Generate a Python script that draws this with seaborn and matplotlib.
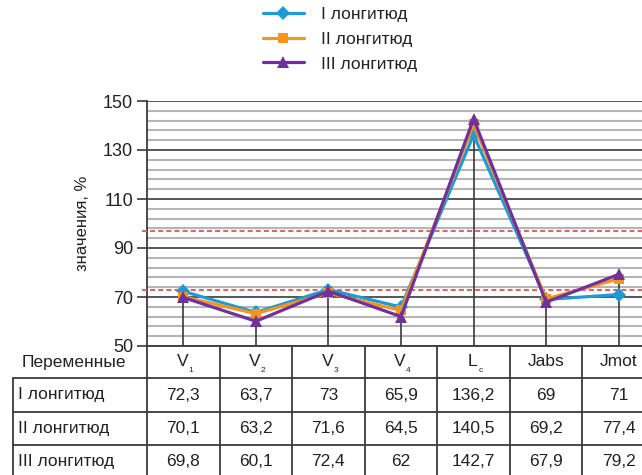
import numpy as np
import pandas as pd
import matplotlib
matplotlib.use("Agg")
import matplotlib.pyplot as plt
import matplotlib.transforms as mtransforms
from matplotlib.lines import Line2D
from matplotlib.ticker import MultipleLocator
from matplotlib import font_manager
import seaborn as sns

# ── Data ──────────────────────────────────────────────────
categories   = ["V1", "V2", "V3", "V4", "Lc", "Jabs", "Jmot"]
cat_main     = ["V", "V", "V", "V", "L", "Jabs", "Jmot"]
cat_sub      = ["1", "2", "3", "4", "c", "", ""]
series_names = ["I лонгитюд", "II лонгитюд", "III лонгитюд"]
long_1       = [72.3, 63.7, 73, 65.9, 136.2, 69, 71]
long_2       = [70.1, 63.2, 71.6, 64.5, 140.5, 69.2, 77.4]
long_3       = [69.8, 60.1, 72.4, 62, 142.7, 67.9, 79.2]
thresholds   = [97, 73]
header_label = "Переменные"
y_label      = "значения, %"

# ── Style ─────────────────────────────────────────────────
sns.set_theme(style="white")
installed = {f.name for f in font_manager.fontManager.ttflist}
NARROW = "Liberation Sans Narrow" if "Liberation Sans Narrow" in installed else "Liberation Sans"
plt.rcParams["font.family"] = ["Liberation Sans", "DejaVu Sans"]

COLORS = {
    "I лонгитюд"   : "#1e9bd7",
    "II лонгитюд"  : "#f7941d",
    "III лонгитюд" : "#6f329c",
    "dark"         : "#3a3a3a",
    "minor"        : "#b5b5b5",
    "red"          : "#e06464",
    "text"         : "#222222",
}
MARKERS = {"I лонгитюд": ("D", 7), "II лонгитюд": ("s", 7), "III лонгитюд": ("^", 8)}

W, H = 642, 475
fig = plt.figure(figsize=(W / 100, H / 100), dpi=100)
fy = lambda px: 1 - px / H          # pixel row -> figure fraction
fx = lambda px: px / W

ax = fig.add_axes([fx(147), fy(346), 508 / W, 245 / H])

df = pd.DataFrame({
    "cat"   : categories * 3,
    "value" : long_1 + long_2 + long_3,
    "series": np.repeat(series_names, len(categories)),
})

# drop lines from the highest point of every category
tops = df.groupby("cat", sort=False)["value"].max()
ax.vlines(tops.index, 50, tops.values, color=COLORS["dark"], lw=1.2, zorder=2)

for i, name in enumerate(series_names):
    m, ms = MARKERS[name]
    sns.lineplot(data=df[df["series"] == name], x="cat", y="value", sort=False,
                 color=COLORS[name], marker=m, markersize=ms, markeredgewidth=0,
                 lw=2.3, ax=ax, label=name, zorder=4 + i)

for t in thresholds:
    ax.axhline(t, xmin=-0.01, xmax=1, color=COLORS["red"], lw=1.5,
               ls=(0, (2.4, 1.5)), clip_on=False, zorder=3)

ax.set_xlim(-0.5, len(categories) - 0.5)
ax.set_ylim(50, 150)
ax.yaxis.set_major_locator(MultipleLocator(20, offset=10))
ax.yaxis.set_minor_locator(MultipleLocator(4, offset=2))
ax.grid(axis="y", which="major", color=COLORS["dark"], lw=1.2, zorder=1)
ax.grid(axis="y", which="minor", color=COLORS["minor"], lw=1.5, zorder=1)
ax.set_axisbelow(True)
ax.set_xticks([])
ax.set_xlabel("")
ax.tick_params(axis="y", which="major", left=True, length=7, width=1.2,
               color=COLORS["dark"], labelsize=13, labelcolor=COLORS["text"], pad=3)
ax.tick_params(axis="y", which="minor", length=0)
ax.set_ylabel(y_label, fontsize=12, color=COLORS["text"], labelpad=9)
for side in ["top", "right"]:
    ax.spines[side].set_visible(False)
for side in ["left", "bottom"]:
    ax.spines[side].set_color(COLORS["dark"])
    ax.spines[side].set_linewidth(1.3)

# ── Legend ────────────────────────────────────────────────
handles, labels = ax.get_legend_handles_labels()
ax.get_legend().remove()
fig.legend(handles, labels, loc="upper left", bbox_to_anchor=(fx(263), fy(7)),
           frameon=False, borderpad=0, borderaxespad=0, handlelength=2.35,
           handletextpad=1.0, labelspacing=0.55,
           prop={"family": NARROW, "size": 12.5}, labelcolor=COLORS["text"])

# ── Table under the axis ──────────────────────────────────
trans = mtransforms.blended_transform_factory(ax.transData, fig.transFigure)
tkw = dict(family=NARROW, color=COLORS["text"], va="center")
lkw = dict(color=COLORS["dark"], lw=1.3)

row_lines = [378, 412, 445]
row_mid   = [395, 428.5, 461.5]
header_y  = 362

fig.text(fx(22), fy(header_y), header_label, family=NARROW, size=12.5,
         color=COLORS["text"], ha="left", va="center")
main_off = mtransforms.offset_copy(trans, fig=fig, x=-1, y=0, units="dots")
sub_off  = mtransforms.offset_copy(trans, fig=fig, x=5, y=-9, units="dots")
for i, (main, sub) in enumerate(zip(cat_main, cat_sub)):
    if sub:
        ax.text(i, fy(header_y - 1), main, transform=main_off, size=12.5,
                ha="center", **tkw)
        ax.text(i, fy(header_y - 1), sub, transform=sub_off, size=6, ha="left", **tkw)
    else:
        ax.text(i, fy(header_y - 1), main, transform=trans, size=12.5, ha="center",
                **tkw)

for name, vals, y in zip(series_names, [long_1, long_2, long_3], row_mid):
    fig.text(fx(18), fy(y), name, family=NARROW, size=12.5,
             color=COLORS["text"], ha="left", va="center")
    for i, v in enumerate(vals):
        ax.text(i, fy(y), f"{v:g}".replace(".", ","), transform=trans, size=12.5,
                ha="center", **tkw)

for y in row_lines:
    fig.add_artist(Line2D([fx(13), 1], [fy(y), fy(y)], **lkw))
fig.add_artist(Line2D([fx(13), fx(13)], [fy(378), 0], **lkw))
for i in range(len(categories) + 1):
    ax.add_line(Line2D([i - 0.5, i - 0.5], [fy(346), 0], transform=trans,
                       clip_on=False, **lkw))

fig.savefig("out.png", dpi=100, facecolor="white")
